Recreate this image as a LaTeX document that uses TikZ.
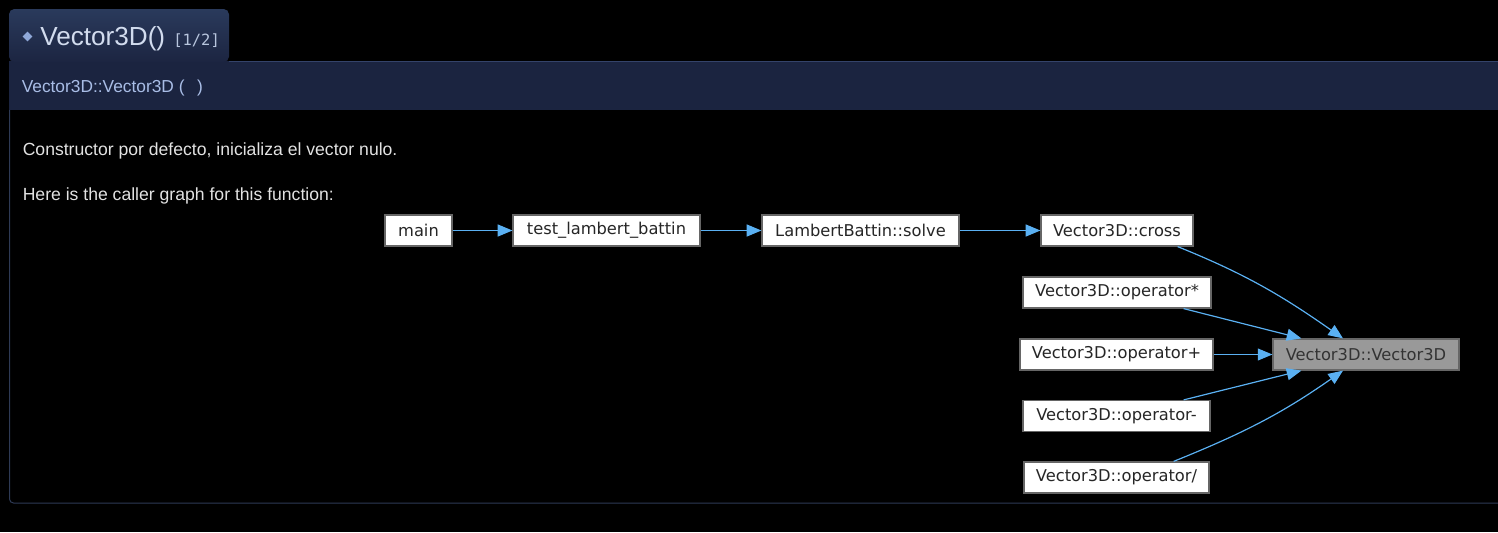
\documentclass[tikz,border=0pt]{standalone}
\usepackage{fontspec}
\setmainfont{Liberation Sans}
\newfontfamily\dejavu{DejaVu Sans}
\newfontfamily\monof{DejaVu Sans Mono}
\usetikzlibrary{arrows.meta,shapes.geometric}
\definecolor{bgblack}{HTML}{000000}
\definecolor{tabtop}{HTML}{2A3A5C}
\definecolor{tabbot}{HTML}{1C2541}
\definecolor{hdrbar}{HTML}{1B2440}
\definecolor{hdrline}{HTML}{34436A}
\definecolor{panelline}{HTML}{2E3A55}
\definecolor{titletxt}{HTML}{D2DCEE}
\definecolor{monotxt}{HTML}{B8C6DE}
\definecolor{hdrtxt}{HTML}{A9BDE6}
\definecolor{bodytxt}{HTML}{E2E2E2}
\definecolor{edgeblue}{HTML}{5AB0F2}
\definecolor{boxline}{HTML}{666666}
\definecolor{diam}{HTML}{8FA8D8}
\tikzset{
  gbox/.style={draw=boxline, line width=0.9pt, fill=white, minimum height=23.25pt,
    inner sep=0pt, font=\dejavu\fontsize{12.2pt}{14pt}\selectfont, text=black!85},
  hibox/.style={gbox, fill=black!40, text=black!80},
  garrow/.style={draw=edgeblue, line width=0.9pt, -{Triangle[length=11pt,width=9pt]}},
  txt/.style={inner sep=0pt, anchor=base west},
}
\begin{document}
\begin{tikzpicture}[x=0.75pt,y=-0.75pt]
\fill[bgblack] (0,0) rectangle (1498,532);
\useasboundingbox (0,0) rectangle (1498,532);
% header bar
\fill[hdrbar] (9,61) rectangle (1498,110);
\draw[hdrline, line width=0.75pt] (229,61.5) -- (1498,61.5);
% tab
\shade[top color=tabtop, bottom color=tabbot, rounded corners=4pt]
  (9,62) -- (9,9) -- (229,9) -- (229,62) -- cycle;
% body border
\draw[panelline, line width=0.75pt, rounded corners=3pt] (9.5,110) -- (9.5,503) -- (1500,503);
% title
\node[diamond, fill=diam, inner sep=0pt, minimum width=7.5pt, minimum height=7.5pt] (bullet) at (27.5,36.5) {};
\node[txt, text=titletxt, font=\fontsize{19.6pt}{22pt}\selectfont] (title) at (40,45) {Vector3D()};
\node[txt, text=monotxt, font=\monof\fontsize{11.6pt}{13pt}\selectfont] (count) at (173,45) {[1/2]};
\node[txt, text=hdrtxt, font=\fontsize{13pt}{15pt}\selectfont] (sig) at (21.5,92) {Vector3D::Vector3D (\ \ \,)};
\node[txt, text=bodytxt, font=\fontsize{13.2pt}{15pt}\selectfont] (desc) at (22.5,155) {Constructor por defecto, inicializa el vector nulo.};
\node[txt, text=bodytxt, font=\fontsize{13.2pt}{15pt}\selectfont] (here) at (22.5,200.5) {Here is the caller graph for this function:};
% graph nodes
\node[gbox, minimum width=50.25pt] (main) at (418.5,230.5) {main};
\node[gbox, minimum width=140.25pt] (test) at (606.5,230.5) {test\_lambert\_battin};
\node[gbox, minimum width=147.75pt] (solve) at (860.5,230.5) {LambertBattin::solve};
\node[gbox, minimum width=114pt] (cross) at (1117,230.5) {Vector3D::cross};
\node[gbox, minimum width=141pt] (ostar) at (1117,292.5) {Vector3D::operator*};
\node[gbox, minimum width=144.75pt] (oplus) at (1116.5,354.5) {Vector3D::operator+};
\node[hibox, minimum width=139.5pt] (v3d) at (1366,354.5) {Vector3D::Vector3D};
\node[gbox, minimum width=140.25pt] (ominus) at (1116.5,416) {Vector3D::operator-};
\node[gbox, minimum width=138.75pt] (odiv) at (1116.5,477.5) {Vector3D::operator/};
% edges
\draw[garrow] (main.east) -- (test.west);
\draw[garrow] (test.east) -- (solve.west);
\draw[garrow] (solve.east) -- (cross.west);
\draw[garrow] ([xshift=-12pt]cross.south east) to[out=-22,in=145] ([xshift=-17.25pt]v3d.north);
\draw[garrow] ([xshift=-21pt]ostar.south east) -- ([xshift=21.75pt]v3d.north west);
\draw[garrow] (oplus.east) -- (v3d.west);
\draw[garrow] ([xshift=-20.25pt]ominus.north east) -- ([xshift=21.75pt]v3d.south west);
\draw[garrow] ([xshift=-27pt]odiv.north east) to[out=22,in=-145] ([xshift=-17.25pt]v3d.south);
\end{tikzpicture}
\end{document}
